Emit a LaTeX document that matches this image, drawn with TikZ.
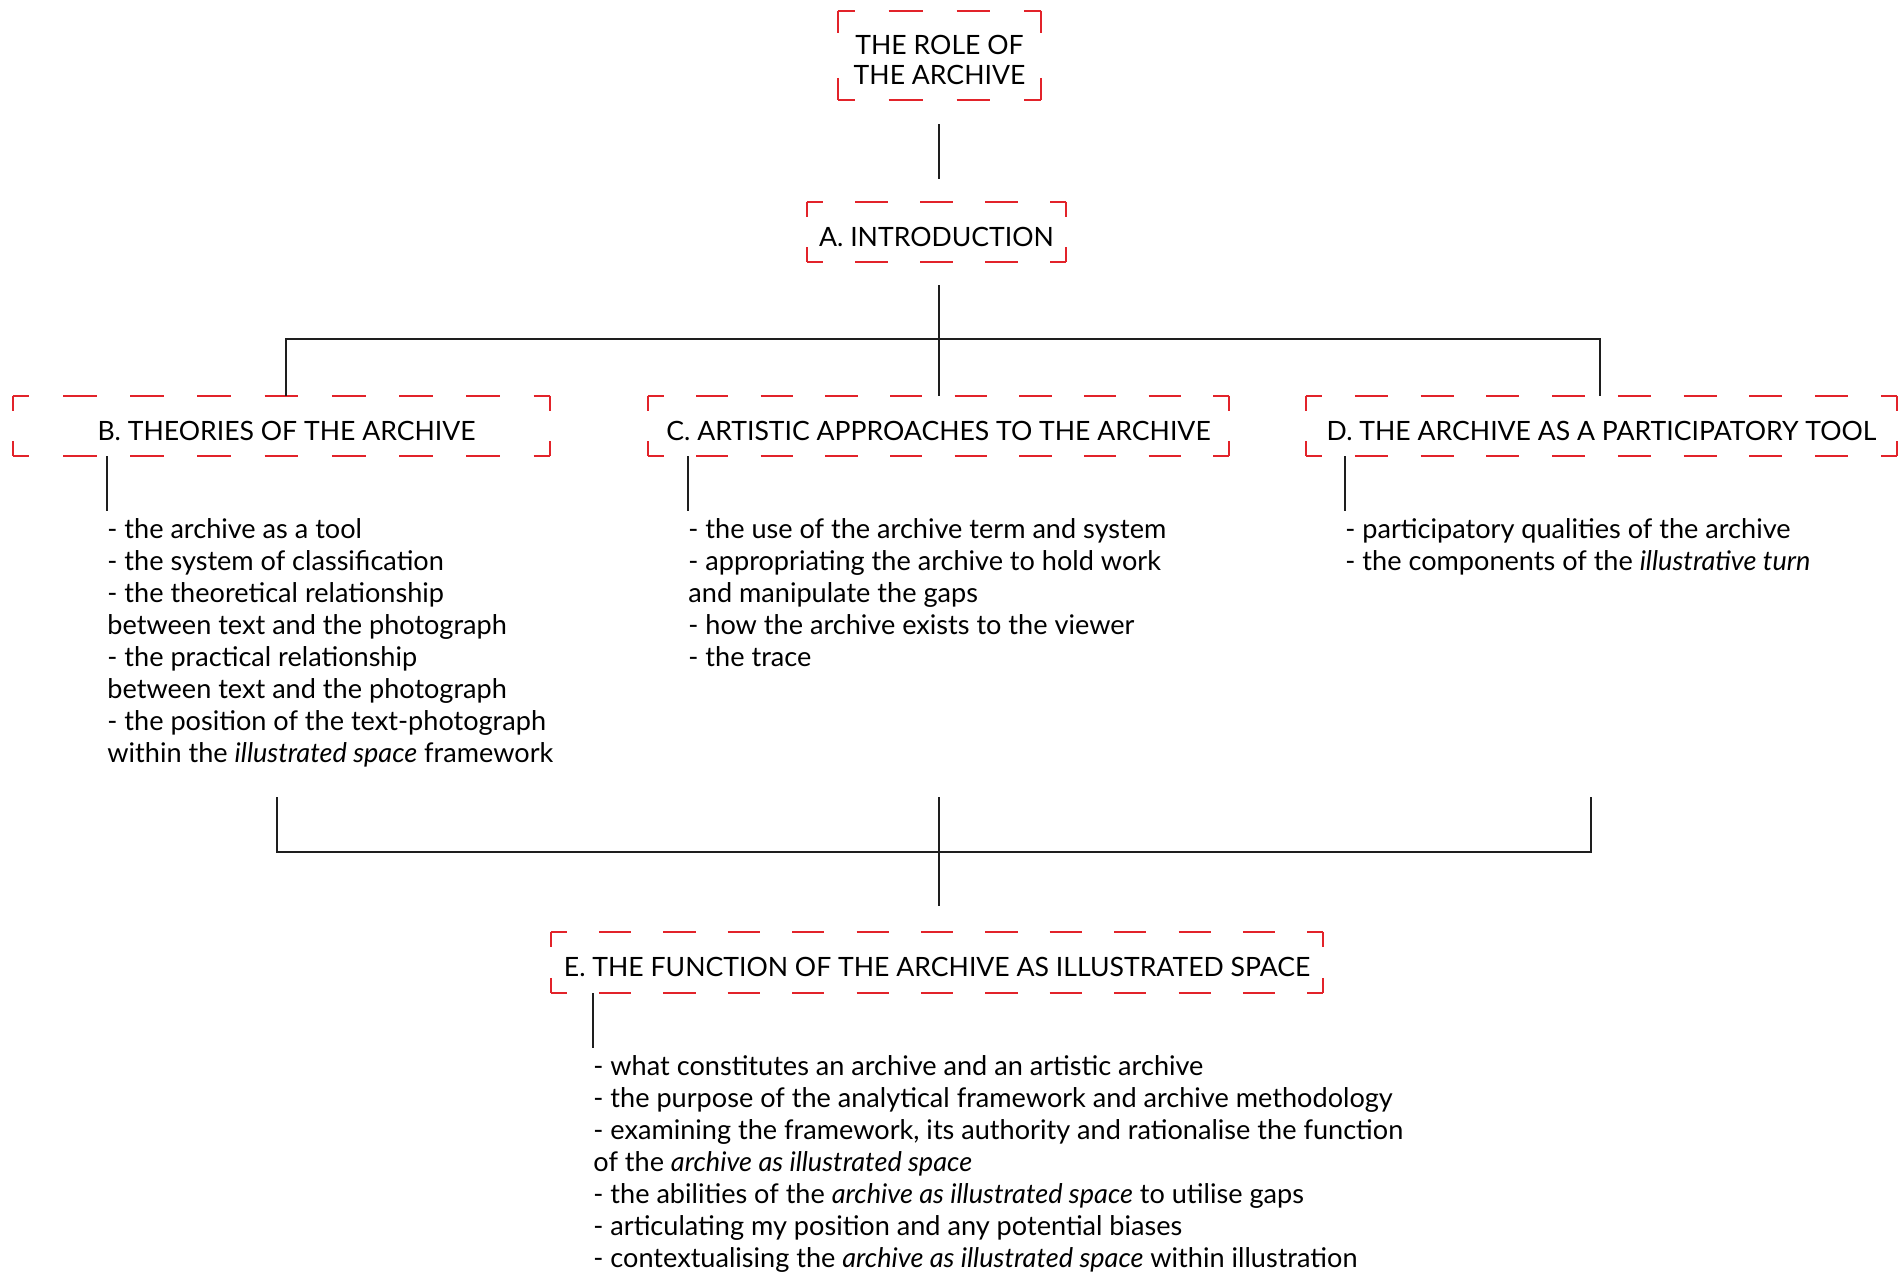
\documentclass[tikz,border=0pt]{standalone}
\usepackage{fontspec}
\setmainfont{Lato}
\definecolor{frameRed}{RGB}{226,35,42}
\definecolor{lineBlack}{RGB}{30,30,30}
\newcommand\titlefont{\fontsize{13.3pt}{15pt}\selectfont}
\newcommand\listfont{\fontsize{13.55pt}{16pt}\selectfont}
\tikzset{
  redframe/.style={draw=frameRed, line width=1pt},
  conn/.style={draw=lineBlack, line width=0.75pt},
  sectionbox/.style 2 args={rectangle, inner sep=0pt,
    minimum width={#1*0.5pt}, minimum height={#2*0.5pt},
    text height=14pt, text depth=0pt, font=\titlefont},
  itemlist/.style={anchor=base west, inner sep=0pt, font=\listfont},
}
% Dashed frame whose sides each begin and end with half a dash,
% so that every corner shows a small bracket.
\makeatletter
\newcommand\rf@side[3]{%
  \pgfmathsetmacro\rf@len{abs(#3)}%
  \pgfmathsetmacro\rf@n{max(1,round(\rf@len/32.5))}%
  \pgfmathsetmacro\rf@d{\rf@len/(2*\rf@n)}%
  \pgfmathsetmacro\rf@p{\rf@d/2}%
  \draw[redframe, dash pattern=on \rf@d pt off \rf@d pt, dash phase=\rf@p pt] (#1) -- (#2);%
}
\newcommand\redframe[1]{%
  \pgfpointanchor{#1}{south west}\pgfgetlastxy{\rf@xa}{\rf@ya}%
  \pgfpointanchor{#1}{north east}\pgfgetlastxy{\rf@xb}{\rf@yb}%
  \rf@side{#1.north west}{#1.north east}{\rf@xb-\rf@xa}%
  \rf@side{#1.south west}{#1.south east}{\rf@xb-\rf@xa}%
  \rf@side{#1.north west}{#1.south west}{\rf@yb-\rf@ya}%
  \rf@side{#1.north east}{#1.south east}{\rf@yb-\rf@ya}%
}
\makeatother
\begin{document}
\begin{tikzpicture}[x=0.5pt, y=-0.5pt]
\useasboundingbox (0,0) rectangle (1898,1274);

% section boxes
\node[sectionbox={203}{89}, text height=28.5pt] (role) at (939.5,55.5)
  {\begin{tabular}[b]{@{}c@{}}THE ROLE OF\\THE ARCHIVE\end{tabular}};
\node[sectionbox={259}{60}] (intro) at (936.5,232) {A. INTRODUCTION};
\node[sectionbox={537}{60}] (theo) at (281.5,426) {\hspace*{5pt}B. THEORIES OF THE ARCHIVE};
\node[sectionbox={581}{60}] (art) at (938.5,426) {C. ARTISTIC APPROACHES TO THE ARCHIVE};
\node[sectionbox={591}{60}] (part) at (1601.5,426) {D. THE ARCHIVE AS A PARTICIPATORY TOOL};
\node[sectionbox={772}{61}] (func) at (937,962.5) {E. THE FUNCTION OF THE ARCHIVE AS ILLUSTRATED SPACE};

\foreach \b in {role,intro,theo,art,part,func} {\redframe{\b}}

% topic lists
\node[itemlist] (listB) at (107,538) {\begin{tabular}[t]{@{}l@{}}
- the archive as a tool\\
- the system of classification\\
- the theoretical relationship\\
between text and the photograph\\
- the practical relationship\\
between text and the photograph\\
- the position of the text-photograph\\
within the \textit{illustrated space} framework
\end{tabular}};
\node[itemlist] (listC) at (688,538) {\begin{tabular}[t]{@{}l@{}}
- the use of the archive term and system\\
- appropriating the archive to hold work\\
and manipulate the gaps\\
- how the archive exists to the viewer\\
- the trace
\end{tabular}};
\node[itemlist] (listD) at (1345,538) {\begin{tabular}[t]{@{}l@{}}
- participatory qualities of the archive\\
- the components of the \textit{illustrative turn}
\end{tabular}};
\node[itemlist] (listE) at (593,1075) {\begin{tabular}[t]{@{}l@{}}
- what constitutes an archive and an artistic archive\\
- the purpose of the analytical framework and archive methodology\\
- examining the framework, its authority and rationalise the function\\
of the \textit{archive as illustrated space}\\
- the abilities of the \textit{archive as illustrated space} to utilise gaps\\
- articulating my position and any potential biases\\
- contextualising the \textit{archive as illustrated space} within illustration
\end{tabular}};

% junction points of the tree
\coordinate (topfork) at (939,339);
\coordinate (Bjoin) at (286,339);
\coordinate (Djoin) at (1600,339);
\coordinate (Bfoot) at (277,797);
\coordinate (Cfoot) at (939,797);
\coordinate (Dfoot) at (1591,797);
\coordinate (botfork) at (939,852);
\coordinate (Btick) at (107,511);
\coordinate (Ctick) at (688,511);
\coordinate (Dtick) at (1345,511);
\coordinate (Etick) at (593,1048);

% connectors
\draw[conn, shorten <=12pt, shorten >=11.5pt] (role.south -| topfork) -- (intro.north -| topfork);
\draw[conn, shorten <=11.5pt] (intro.south -| topfork) -- (art.north -| topfork);
\draw[conn] (theo.north -| Bjoin) -- (Bjoin) -- (Djoin) -- (part.north -| Djoin);
\draw[conn] (theo.south -| Btick) -- (Btick);
\draw[conn] (art.south -| Ctick) -- (Ctick);
\draw[conn] (part.south -| Dtick) -- (Dtick);
\draw[conn] (Bfoot) |- (botfork) -| (Dfoot);
\draw[conn, shorten >=13pt] (Cfoot) -- (func.north -| Cfoot);
\draw[conn] (func.south -| Etick) -- (Etick);
\end{tikzpicture}
\end{document}
